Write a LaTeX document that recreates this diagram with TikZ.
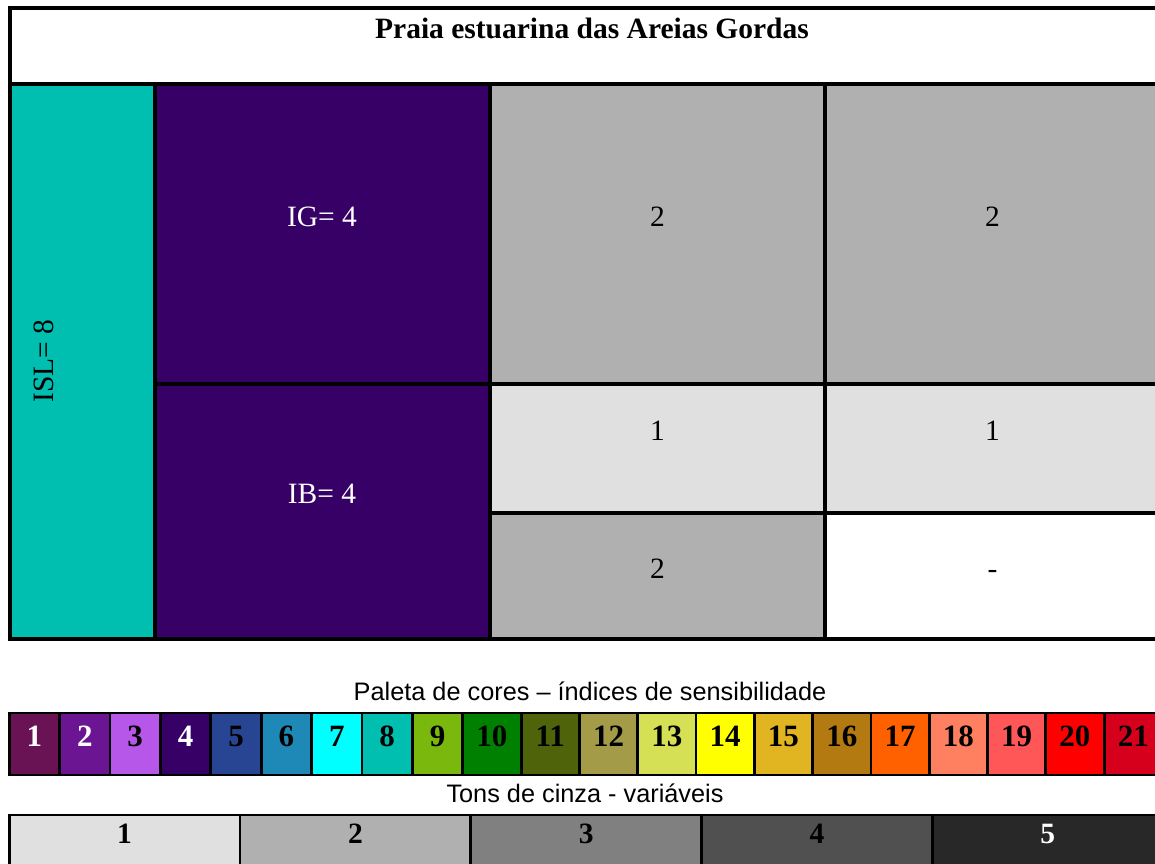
\documentclass[tikz,border=0pt]{standalone}
\usepackage{fontspec}
\setmainfont{Liberation Serif}
\newfontfamily\sansf{Liberation Sans}
\definecolor{islc}{HTML}{00BFB0}
\definecolor{igc}{HTML}{360066}
\definecolor{g1}{HTML}{E0E0E0}
\definecolor{g2}{HTML}{B0B0B0}
\definecolor{g3}{HTML}{808080}
\definecolor{g4}{HTML}{505050}
\definecolor{g5}{HTML}{282828}
\definecolor{p1}{HTML}{691354}
\definecolor{p2}{HTML}{6B1592}
\definecolor{p3}{HTML}{B657E9}
\definecolor{p4}{HTML}{360066}
\definecolor{p5}{HTML}{284594}
\definecolor{p6}{HTML}{1E88B6}
\definecolor{p7}{HTML}{00FFFF}
\definecolor{p8}{HTML}{00BFB0}
\definecolor{p9}{HTML}{7AB80E}
\definecolor{p10}{HTML}{008000}
\definecolor{p11}{HTML}{4F640A}
\definecolor{p12}{HTML}{A39B48}
\definecolor{p13}{HTML}{D6E054}
\definecolor{p14}{HTML}{FFFF00}
\definecolor{p15}{HTML}{E0B521}
\definecolor{p16}{HTML}{B47A12}
\definecolor{p17}{HTML}{FF6000}
\definecolor{p18}{HTML}{FF8060}
\definecolor{p19}{HTML}{FF5757}
\definecolor{p20}{HTML}{FF0000}
\definecolor{p21}{HTML}{D6001C}
\begin{document}
\begin{tikzpicture}[x=1pt,y=-1pt,
  gridline/.style={line width=3.6pt},
  barline/.style={line width=2.8pt},
  txt/.style={anchor=base, inner sep=0pt, font=\fontsize{29.5}{34}\selectfont},
  btxt/.style={anchor=base, inner sep=0pt, font=\fontsize{29.5}{34}\selectfont\bfseries},
  ptxt/.style={anchor=base, inner sep=0pt, font=\fontsize{31}{36}\selectfont\bfseries},
  stxt/.style={anchor=base, inner sep=0pt, font=\sansf\fontsize{25.3}{30}\selectfont}]
\useasboundingbox (0,0) rectangle (1155,863);
\fill[white] (0,0) rectangle (1155,863);
% main table fills
\fill[islc] (10,84) rectangle (155,639);
\fill[igc] (155,84) rectangle (490,639);
\fill[g2] (490,84) rectangle (1170,384);
\fill[g1] (490,384) rectangle (1170,513);
\fill[g2] (490,513) rectangle (825,639);
% grid lines
\draw[gridline] (10,8) rectangle (1170,639);
\draw[gridline] (10,84) -- (1170,84);
\draw[gridline] (155,84) -- (155,639);
\draw[gridline] (490,84) -- (490,639);
\draw[gridline] (825,84) -- (825,639);
\draw[gridline] (155,384) -- (1170,384);
\draw[gridline] (490,513) -- (1170,513);
% texts
\node[btxt] (title) at (592,38) {Praia estuarina das Areias Gordas};
\node[txt, rotate=90] (isl) at (53,361) {ISL= 8};
\node[txt, text=white] (ig) at (322,226) {IG= 4};
\node[txt, text=white] (ib) at (322,503) {IB= 4};
\node[txt] (a1) at (657.5,226) {2};
\node[txt] (a2) at (992.5,226) {2};
\node[txt] (b1) at (657.5,440) {1};
\node[txt] (b2) at (992.5,440) {1};
\node[txt] (c1) at (657.5,578) {2};
\node[txt] (c2) at (992.5,578) {-};
% palette
\node[stxt] (paltitle) at (590,700) {Paleta de cores – índices de sensibilidade};
\foreach \i/\t in {1/white,2/white,3/black,4/white,5/black,6/black,7/black,8/black,9/black,10/black,11/black,12/black,13/black,14/black,15/black,16/black,17/black,18/black,19/black,20/black,21/black}{
  \pgfmathsetmacro\xa{\i<10 ? 9.2+(\i-1)*50.4 : 462.8+(\i-10)*58.3}
  \pgfmathsetmacro\w{\i<10 ? 50.4 : 58.3}
  \fill[p\i] (\xa,713) rectangle ++(\w,62);
  \draw[barline] (\xa,713) rectangle ++(\w,62);
  \node[ptxt, text=\t] (pal\i) at (\xa+\w/2,746) {\i};
}
% grays
\node[stxt] (graytitle) at (585,802) {Tons de cinza - variáveis};
\foreach \i/\t in {1/black,2/black,3/black,4/black,5/white}{
  \pgfmathsetmacro\xa{9.2+(\i-1)*230.8}
  \fill[g\i] (\xa,815) rectangle ++(230.8,60);
  \draw[barline] (\xa,815) rectangle ++(230.8,60);
  \node[btxt, text=\t] (gray\i) at (\xa+115.4,843) {\i};
}
\end{tikzpicture}
\end{document}
